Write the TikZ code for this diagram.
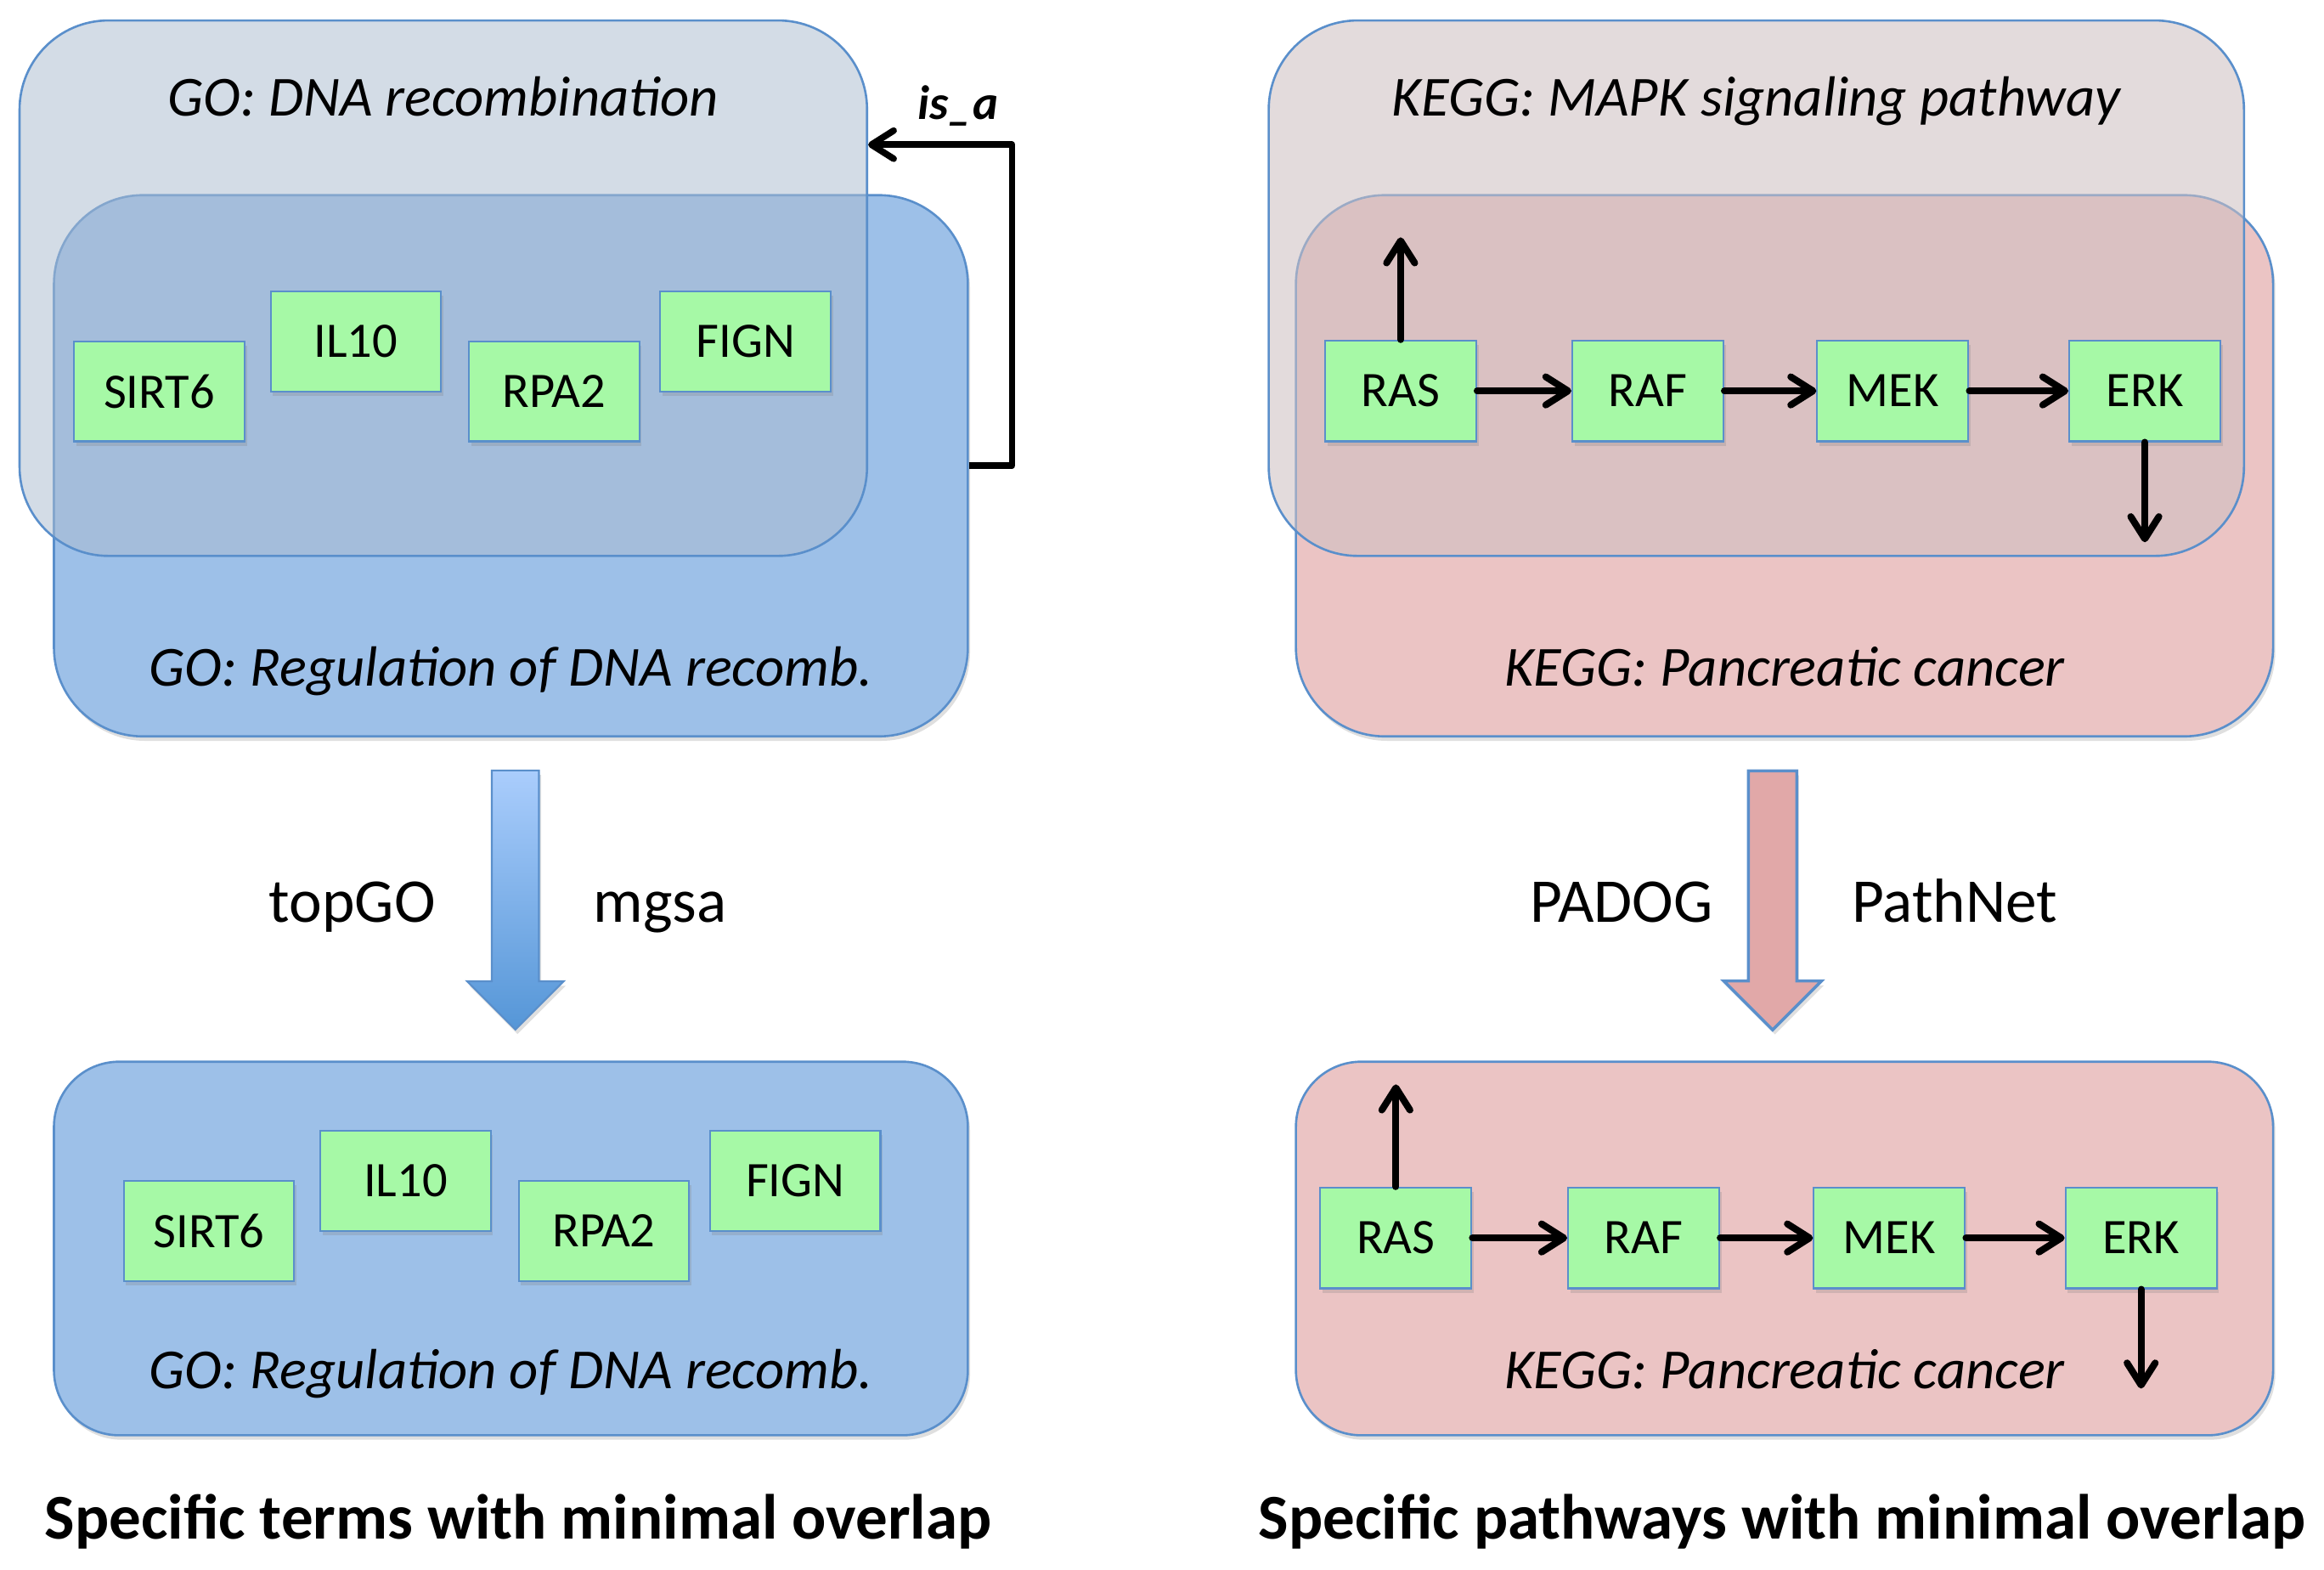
\documentclass[tikz,border=0pt]{standalone}
\usepackage{fontspec}
\setmainfont{Carlito}
\usetikzlibrary{positioning,shapes.arrows,shadows,arrows.meta}

\definecolor{boxline}{RGB}{90,143,203}
\definecolor{genegreen}{RGB}{166,249,166}
\definecolor{goblue}{RGB}{157,192,232}
\definecolor{gogray}{RGB}{171,188,208}
\definecolor{keggpink}{RGB}{235,196,196}
\definecolor{kegggray}{RGB}{206,192,194}
\definecolor{arrowpink}{RGB}{225,168,168}
\definecolor{arrowtop}{RGB}{170,205,252}
\definecolor{arrowbot}{RGB}{85,150,215}

\begin{document}
\begin{tikzpicture}[x=1pt,y=-1pt,
  soft/.style={drop shadow={shadow xshift=1.5pt,shadow yshift=-3pt,opacity=.25}},
  gene/.style={draw=boxline,line width=1.2pt,fill=genegreen,inner sep=0pt,
    minimum width=115pt,minimum height=67.5pt,font=\fontsize{33.5}{40}\selectfont,soft},
  kinase/.style={gene,minimum width=102pt,minimum height=68pt},
  gobox/.style={draw=boxline,line width=1.5pt,fill=goblue,rounded corners=60pt,inner sep=0pt,soft},
  gotop/.style={draw=boxline,line width=1.5pt,fill=gogray,fill opacity=.52,rounded corners=60pt,inner sep=0pt},
  keggbox/.style={gobox,fill=keggpink},
  keggtop/.style={gotop,fill=kegggray,fill opacity=.57},
  boxlabel/.style={anchor=base,font=\fontsize{38.2}{45}\itshape},
  method/.style={font=\fontsize{42}{50}\selectfont},
  result/.style={anchor=base,font=\fontsize{43}{52}\bfseries},
  bigarrow/.style={single arrow,rotate=-90,minimum height=174.8pt,minimum width=1pt,
    inner xsep=0pt,inner ysep=15.3pt,single arrow head extend=16.7pt,soft},
  pw/.style={line width=4.6pt,line cap=round,
    -{Straight Barb[length=15pt,width=19pt,line cap=round,line join=round]}},
  isa/.style={line width=4.4pt,line join=round,
    -{Straight Barb[length=15pt,width=19pt,line cap=round,line join=round]}}]
\useasboundingbox (0,0) rectangle (1568,1059);

% GO: before
\node[gobox,minimum width=616.6pt,minimum height=365.1pt] (reg) at (344.7,314.2) {};
\node[gotop,minimum width=571.8pt,minimum height=361.2pt] (dna) at (299.1,194.4) {};
\node[boxlabel] (dnatext) at ([yshift=-65.2pt]dna.north) {GO: DNA recombination};
\node[boxlabel] (regtext) at ([yshift=35pt]reg.south) {GO: Regulation of DNA recomb.};
\node[gene] (sirt) at (107.5,264) {SIRT6};
\node[gene,right=16.4pt of sirt,yshift=33.8pt] (il) {IL10};
\node[gene,right=17.6pt of il,yshift=-33.8pt] (rpa) {RPA2};
\node[gene,right=12.9pt of rpa,yshift=33.8pt] (fign) {FIGN};
\draw[isa] (reg.east) -- ++(29,0) |- ([yshift=96.8pt]dna.east);
\node[anchor=base east,font=\fontsize{32.5}{38}\bfseries\itshape] (isatext) at (677,80.6) {is\_a};

% KEGG: before
\node[keggbox,minimum width=659.3pt,minimum height=365.1pt] (panc) at (1204,314.2) {};
\node[keggtop,minimum width=658pt,minimum height=361.2pt] (mapk) at (1185,194.4) {};
\node[boxlabel] (mapktext) at ([yshift=-65.2pt]mapk.north) {KEGG: MAPK signaling pathway};
\node[boxlabel] (panctext) at ([yshift=35pt]panc.south) {KEGG: Pancreatic cancer};
\node[kinase] (ras) at (945,263.7) {RAS};
\node[kinase,right=63.6pt of ras] (raf) {RAF};
\node[kinase,right=62.1pt of raf] (mek) {MEK};
\node[kinase,right=66.8pt of mek] (erk) {ERK};
\coordinate (rasup) at ([yshift=69pt]ras.north);
\coordinate (erkdown) at ([yshift=-67.5pt]erk.south);
\draw[pw] (ras) -- (raf);
\draw[pw] (raf) -- (mek);
\draw[pw] (mek) -- (erk);
\draw[pw] (ras) -- (rasup);
\draw[pw] (erk) -- (erkdown);

% Methods
\node[bigarrow,draw=boxline,line width=1.2pt,top color=arrowtop,bottom color=arrowbot] (goarrow) at (347.7,599.2) {};
\node[bigarrow,draw=boxline,line width=2pt,fill=arrowpink] (keggarrow) at (1196,599.2) {};
\node[method,anchor=base east] (topgo) at (297.3,622) {topGO};
\node[method,anchor=base west] (mgsa) at (396.9,622) {mgsa};
\node[method,anchor=base east] (padog) at (1159,622) {PADOG};
\node[method,anchor=base west] (pathnet) at (1246,622) {PathNet};

% GO: after
\node[gobox,minimum width=616.6pt,minimum height=252pt,rounded corners=44pt] (gobot) at (344.7,842.2) {};
\node[boxlabel] (gobottext) at ([yshift=32pt]gobot.south) {GO: Regulation of DNA recomb.};
\node[gene] (bsirt) at (141,830.3) {SIRT6};
\node[gene,right=16.4pt of bsirt,yshift=33.8pt] (bil) {IL10};
\node[gene,right=17.6pt of bil,yshift=-33.8pt] (brpa) {RPA2};
\node[gene,right=12.9pt of brpa,yshift=33.8pt] (bfign) {FIGN};
\node[result] (goresult) at ([xshift=5pt,yshift=-69pt]gobot.south) {Specific terms with minimal overlap};

% KEGG: after
\node[keggbox,minimum width=659.3pt,minimum height=252pt,rounded corners=44pt] (keggbot) at (1204,842.2) {};
\node[boxlabel] (keggbottext) at ([yshift=32pt]keggbot.south) {KEGG: Pancreatic cancer};
\node[kinase] (bras) at (941.8,835.1) {RAS};
\node[kinase,right=64pt of bras] (braf) {RAF};
\node[kinase,right=62.6pt of braf] (bmek) {MEK};
\node[kinase,right=66.6pt of bmek] (berk) {ERK};
\coordinate (brasup) at ([yshift=69pt]bras.north);
\coordinate (berkdown) at ([yshift=-67pt]berk.south);
\draw[pw] (bras) -- (braf);
\draw[pw] (braf) -- (bmek);
\draw[pw] (bmek) -- (berk);
\draw[pw] (bras) -- (brasup);
\draw[pw] (berk) -- (berkdown);
\node[result] (keggresult) at ([xshift=-1.5pt,yshift=-69pt]keggbot.south) {Specific pathways with minimal overlap};
\end{tikzpicture}
\end{document}
